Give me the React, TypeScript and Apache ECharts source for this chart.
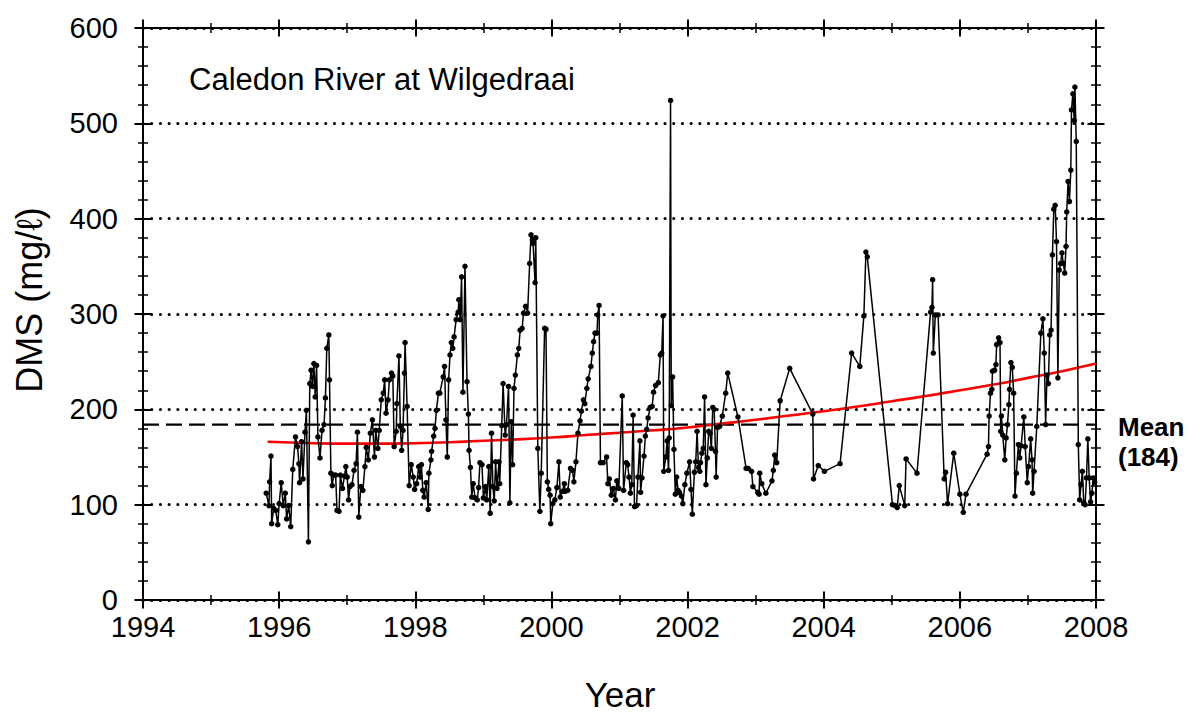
import React, { useEffect, useRef } from "react";
import * as echarts from "echarts";

const X_MIN = 1994;
const X_MAX = 2008;
const X_STEP = 2;
const Y_MIN = 0;
const Y_MAX = 600;
const Y_STEP = 100;
const MEAN_DMS = 184;
const TITLE = "Caledon River at Wilgedraai";
const X_NAME = "Year";
const Y_NAME = "DMS (mg/\u2113)";
const MEAN_LABEL = "Mean";
const MEAN_VALUE_LABEL = "(184)";

// [decimal year, DMS mg/l]
const OBS_1995_1998: [number, number][] = [
  [1995.81, 112], [1995.85, 99], [1995.86, 124], [1995.88, 151], [1995.89, 80], [1995.92, 96], [1995.95, 94],
  [1995.98, 79], [1996.0, 101], [1996.03, 123], [1996.06, 99], [1996.09, 112], [1996.11, 85], [1996.14, 99],
  [1996.17, 77], [1996.2, 137], [1996.24, 171], [1996.27, 161], [1996.29, 143], [1996.3, 123], [1996.33, 166],
  [1996.35, 127], [1996.38, 176], [1996.4, 199], [1996.43, 61], [1996.45, 227], [1996.47, 241], [1996.49, 224],
  [1996.51, 248], [1996.53, 213], [1996.55, 246], [1996.57, 171], [1996.6, 149], [1996.63, 178], [1996.66, 184],
  [1996.68, 212], [1996.7, 264], [1996.73, 278], [1996.74, 231], [1996.76, 133], [1996.78, 120], [1996.8, 131],
  [1996.83, 131], [1996.85, 94], [1996.88, 93], [1996.9, 131], [1996.93, 117], [1996.96, 130], [1996.98, 140],
  [1997.0, 129], [1997.02, 105], [1997.04, 119], [1997.07, 121], [1997.1, 136], [1997.13, 143], [1997.15, 176],
  [1997.17, 87], [1997.2, 119], [1997.23, 115], [1997.26, 140], [1997.28, 160], [1997.31, 147], [1997.34, 175],
  [1997.37, 189], [1997.4, 150], [1997.42, 178], [1997.45, 159], [1997.47, 178], [1997.5, 210], [1997.53, 217],
  [1997.55, 231], [1997.57, 196], [1997.6, 210], [1997.62, 231], [1997.65, 238], [1997.67, 235], [1997.69, 161],
  [1997.72, 177], [1997.73, 206], [1997.76, 256], [1997.78, 182], [1997.8, 157], [1997.82, 178], [1997.84, 238],
  [1997.85, 270], [1997.88, 203], [1997.91, 120], [1997.94, 142], [1997.97, 129], [1997.99, 116], [1998.02, 122],
  [1998.05, 140], [1998.07, 129], [1998.09, 142], [1998.11, 115], [1998.13, 108], [1998.16, 123], [1998.19, 95],
  [1998.2, 133], [1998.23, 147], [1998.24, 156], [1998.27, 172], [1998.29, 180], [1998.31, 199], [1998.34, 217],
];

const OBS_1998_2001: [number, number][] = [
  [1998.36, 217], [1998.41, 234], [1998.43, 245], [1998.45, 189], [1998.47, 150], [1998.49, 231], [1998.51, 257],
  [1998.53, 270], [1998.55, 264], [1998.57, 276], [1998.6, 294], [1998.63, 302], [1998.64, 315], [1998.66, 294],
  [1998.68, 339], [1998.7, 218], [1998.73, 350], [1998.76, 229], [1998.78, 195], [1998.79, 157], [1998.81, 139],
  [1998.83, 108], [1998.85, 122], [1998.88, 107], [1998.91, 105], [1998.93, 118], [1998.95, 144], [1998.98, 142],
  [1999.0, 107], [1999.03, 119], [1999.05, 105], [1999.08, 140], [1999.1, 91], [1999.12, 175], [1999.14, 119],
  [1999.16, 104], [1999.18, 145], [1999.2, 117], [1999.23, 145], [1999.24, 122], [1999.27, 183], [1999.29, 227],
  [1999.32, 173], [1999.34, 184], [1999.37, 224], [1999.39, 102], [1999.41, 187], [1999.43, 142], [1999.45, 222],
  [1999.47, 236], [1999.5, 257], [1999.52, 264], [1999.54, 283], [1999.57, 285], [1999.59, 301], [1999.62, 308],
  [1999.65, 301], [1999.68, 353], [1999.7, 383], [1999.72, 378], [1999.73, 374], [1999.76, 333], [1999.77, 380],
  [1999.8, 159], [1999.83, 93], [1999.85, 133], [1999.9, 285], [1999.92, 284], [1999.94, 124], [1999.96, 116],
  [1999.98, 110], [1999.99, 80], [2000.02, 101], [2000.05, 105], [2000.08, 118], [2000.11, 145], [2000.13, 108],
  [2000.16, 114], [2000.19, 122], [2000.2, 114], [2000.24, 115], [2000.28, 138], [2000.31, 136], [2000.33, 124],
  [2000.36, 145], [2000.39, 175], [2000.42, 188], [2000.44, 198], [2000.47, 210], [2000.49, 206], [2000.52, 222],
  [2000.54, 232], [2000.58, 245], [2000.6, 259], [2000.62, 271], [2000.64, 280], [2000.67, 280], [2000.68, 299],
  [2000.7, 309], [2000.72, 144], [2000.76, 144], [2000.81, 150], [2000.83, 122], [2000.85, 127], [2000.88, 110],
  [2000.91, 117], [2000.94, 105], [2000.96, 125],
];

const OBS_2001_2004: [number, number][] = [
  [2000.99, 117], [2001.04, 214], [2001.06, 115], [2001.1, 144], [2001.12, 142], [2001.14, 129], [2001.16, 112],
  [2001.18, 121], [2001.2, 194], [2001.22, 98], [2001.25, 99], [2001.27, 129], [2001.3, 167], [2001.31, 113],
  [2001.33, 128], [2001.36, 151], [2001.38, 172], [2001.4, 179], [2001.42, 191], [2001.45, 202], [2001.48, 203],
  [2001.5, 218], [2001.53, 225], [2001.57, 228], [2001.6, 257], [2001.62, 259], [2001.64, 298], [2001.65, 135],
  [2001.68, 150], [2001.7, 167], [2001.72, 136], [2001.73, 170], [2001.75, 524], [2001.76, 204], [2001.78, 234],
  [2001.8, 158], [2001.82, 111], [2001.84, 129], [2001.86, 115], [2001.88, 113], [2001.91, 109], [2001.93, 101],
  [2001.96, 121], [2001.99, 133], [2002.03, 145], [2002.05, 116], [2002.07, 90], [2002.1, 134], [2002.12, 145],
  [2002.14, 177], [2002.16, 139], [2002.18, 135], [2002.19, 144], [2002.21, 154], [2002.23, 159], [2002.25, 213],
  [2002.27, 121], [2002.29, 149], [2002.31, 177], [2002.33, 175], [2002.35, 159], [2002.37, 202], [2002.39, 200],
  [2002.41, 156], [2002.42, 129], [2002.44, 181], [2002.47, 182], [2002.51, 193], [2002.56, 217], [2002.59, 238],
  [2002.74, 192], [2002.86, 138], [2002.89, 138], [2002.94, 135], [2002.96, 119], [2003.03, 113], [2003.05, 111],
  [2003.06, 133], [2003.09, 122], [2003.15, 112], [2003.24, 125], [2003.26, 136], [2003.28, 152], [2003.31, 144],
  [2003.36, 209], [2003.5, 243], [2003.84, 195], [2003.85, 127], [2003.92, 141],
];

const OBS_2004_2006: [number, number][] = [
  [2004.01, 135], [2004.24, 143], [2004.41, 259], [2004.53, 245], [2004.59, 298], [2004.62, 365], [2004.64, 360],
  [2005.01, 100], [2005.05, 99], [2005.08, 97], [2005.11, 120], [2005.19, 99], [2005.21, 148], [2005.37, 133],
  [2005.57, 302], [2005.59, 307], [2005.6, 336], [2005.61, 259], [2005.64, 299], [2005.68, 299], [2005.77, 127],
  [2005.79, 134], [2005.82, 101], [2005.91, 154], [2006.0, 111], [2006.05, 92], [2006.09, 111],
];

const OBS_2006_2008: [number, number][] = [
  [2006.4, 153], [2006.42, 161], [2006.43, 193], [2006.45, 217], [2006.47, 221], [2006.48, 240], [2006.51, 241],
  [2006.53, 247], [2006.54, 268], [2006.57, 275], [2006.59, 270], [2006.6, 177], [2006.61, 193], [2006.63, 173],
  [2006.66, 147], [2006.68, 170], [2006.7, 184], [2006.72, 205], [2006.73, 221], [2006.75, 249], [2006.77, 244],
  [2006.79, 217], [2006.81, 109], [2006.83, 133], [2006.86, 163], [2006.88, 149], [2006.9, 162], [2006.94, 192],
  [2006.96, 161], [2006.99, 123], [2007.01, 140], [2007.04, 169], [2007.06, 147], [2007.07, 112], [2007.09, 135],
  [2007.13, 182], [2007.19, 280], [2007.22, 295], [2007.24, 259], [2007.26, 184], [2007.28, 236], [2007.3, 227],
  [2007.32, 278], [2007.34, 283], [2007.36, 362], [2007.38, 410], [2007.4, 414], [2007.42, 376], [2007.44, 233],
  [2007.46, 346], [2007.48, 353], [2007.5, 364], [2007.52, 353], [2007.54, 343], [2007.56, 371], [2007.57, 407],
  [2007.59, 439], [2007.61, 418], [2007.63, 451], [2007.64, 514], [2007.66, 531], [2007.68, 503], [2007.69, 538],
  [2007.71, 481], [2007.74, 163], [2007.76, 105], [2007.78, 121], [2007.8, 135], [2007.82, 102], [2007.84, 100],
  [2007.86, 128], [2007.88, 169], [2007.9, 128], [2007.92, 103], [2007.94, 112], [2007.96, 128], [2007.98, 123],
];

// fitted trend (red curve)
const TREND: [number, number][] = [
  [1995.83, 166], [1996.5, 164.5], [1997.0, 164], [1997.5, 164], [1998.0, 164.5], [1998.5, 165.5], [1999.0, 167],
  [1999.5, 168.5], [2000.0, 170.5], [2000.5, 173], [2001.0, 175.5], [2001.5, 178], [2002.0, 181], [2002.5, 185],
  [2003.0, 189], [2003.5, 193.5], [2004.0, 198], [2004.5, 203], [2005.0, 208.5], [2005.5, 214], [2006.0, 220],
  [2006.5, 226], [2007.0, 233], [2007.5, 240], [2008.0, 248],
];

const FONT = '"Liberation Sans", Arial, Helvetica, sans-serif';

function xAxisDef(position: "bottom" | "top", inside: boolean, labels: boolean) {
  return {
    type: "value",
    position,
    min: X_MIN,
    max: X_MAX,
    interval: X_STEP,
    axisLine: { show: true, onZero: false, lineStyle: { color: "#000", width: 2 } },
    axisTick: { show: true, inside, length: 8.5, lineStyle: { color: "#000", width: 2 } },
    minorTick: { show: true, splitNumber: 2, length: 5, lineStyle: { color: "#000", width: 1.5 } },
    axisLabel: {
      show: labels,
      color: "#000",
      fontSize: 29,
      fontFamily: FONT,
      margin: 12,
      formatter: (v: number) => String(v),
    },
    splitLine: { show: false },
    minorSplitLine: { show: false },
  };
}

function yAxisDef(position: "left" | "right", inside: boolean, labels: boolean, grid: boolean) {
  return {
    type: "value",
    position,
    min: Y_MIN,
    max: Y_MAX,
    interval: Y_STEP,
    axisLine: { show: true, onZero: false, lineStyle: { color: "#000", width: 2 } },
    axisTick: { show: true, inside, length: 8.5, lineStyle: { color: "#000", width: 2 } },
    minorTick: { show: true, splitNumber: 5, length: 5, lineStyle: { color: "#000", width: 1.5 } },
    axisLabel: {
      show: labels,
      color: "#000",
      fontSize: 29,
      fontFamily: FONT,
      margin: 25,
      formatter: (v: number) => String(v),
    },
    splitLine: {
      show: grid,
      lineStyle: { color: "#000", width: 3, type: [0.1, 8.6], cap: "round" },
    },
    minorSplitLine: { show: false },
  };
}

export default function App() {
  const ref = useRef<HTMLDivElement>(null);

  useEffect(() => {
    document.body.style.margin = "0";
    if (!ref.current) return;
    const chart = echarts.init(ref.current, undefined, { renderer: "svg" });
    const observations = [
      ...OBS_1995_1998,
      ...OBS_1998_2001,
      ...OBS_2001_2004,
      ...OBS_2004_2006,
      ...OBS_2006_2008,
    ];
    chart.setOption({
      animation: false,
      backgroundColor: "#fff",
      grid: { left: 143, right: 94, top: 28, bottom: 113, containLabel: false },
      xAxis: [
        xAxisDef("bottom", false, true),
        xAxisDef("bottom", true, false),
        xAxisDef("top", false, false),
        xAxisDef("top", true, false),
      ],
      yAxis: [
        yAxisDef("left", false, true, true),
        yAxisDef("left", true, false, false),
        yAxisDef("right", false, false, false),
        yAxisDef("right", true, false, false),
      ],
      series: [
        {
          type: "line",
          name: "mean",
          data: [
            [X_MIN, MEAN_DMS],
            [X_MAX, MEAN_DMS],
          ],
          symbol: "none",
          lineStyle: { color: "#000", width: 2.2, type: [16, 7] },
          z: 2,
          silent: true,
        },
        {
          type: "line",
          name: "trend",
          data: TREND,
          smooth: true,
          symbol: "none",
          lineStyle: { color: "#ff0000", width: 2.6 },
          z: 3,
          silent: true,
        },
        {
          type: "line",
          name: "DMS",
          data: observations,
          symbol: "circle",
          symbolSize: 5.5,
          itemStyle: { color: "#000" },
          lineStyle: { color: "#000", width: 1.5 },
          z: 4,
        },
      ],
      graphic: [
        {
          type: "text",
          x: 189,
          y: 79,
          style: {
            text: TITLE,
            font: `31px ${FONT}`,
            fill: "#000",
            textAlign: "left",
            textVerticalAlign: "middle",
            align: "left",
            verticalAlign: "middle",
          },
        },
        {
          type: "text",
          x: 1118,
          y: 427,
          style: {
            text: MEAN_LABEL,
            font: `bold 26px ${FONT}`,
            fill: "#000",
            textAlign: "left",
            textVerticalAlign: "middle",
            align: "left",
            verticalAlign: "middle",
          },
        },
        {
          type: "text",
          x: 1118,
          y: 457,
          style: {
            text: MEAN_VALUE_LABEL,
            font: `bold 26px ${FONT}`,
            fill: "#000",
            textAlign: "left",
            textVerticalAlign: "middle",
            align: "left",
            verticalAlign: "middle",
          },
        },
        {
          type: "text",
          x: 620,
          y: 694,
          style: {
            text: X_NAME,
            font: `35px ${FONT}`,
            fill: "#000",
            textAlign: "center",
            textVerticalAlign: "middle",
            align: "center",
            verticalAlign: "middle",
          },
        },
        {
          type: "text",
          x: 29,
          y: 300,
          rotation: Math.PI / 2,
          style: {
            text: Y_NAME,
            font: `36px ${FONT}`,
            fill: "#000",
            textAlign: "center",
            textVerticalAlign: "middle",
            align: "center",
            verticalAlign: "middle",
          },
        },
      ],
    });
    return () => chart.dispose();
  }, []);

  return <div ref={ref} style={{ width: 1190, height: 713 }} />;
}
